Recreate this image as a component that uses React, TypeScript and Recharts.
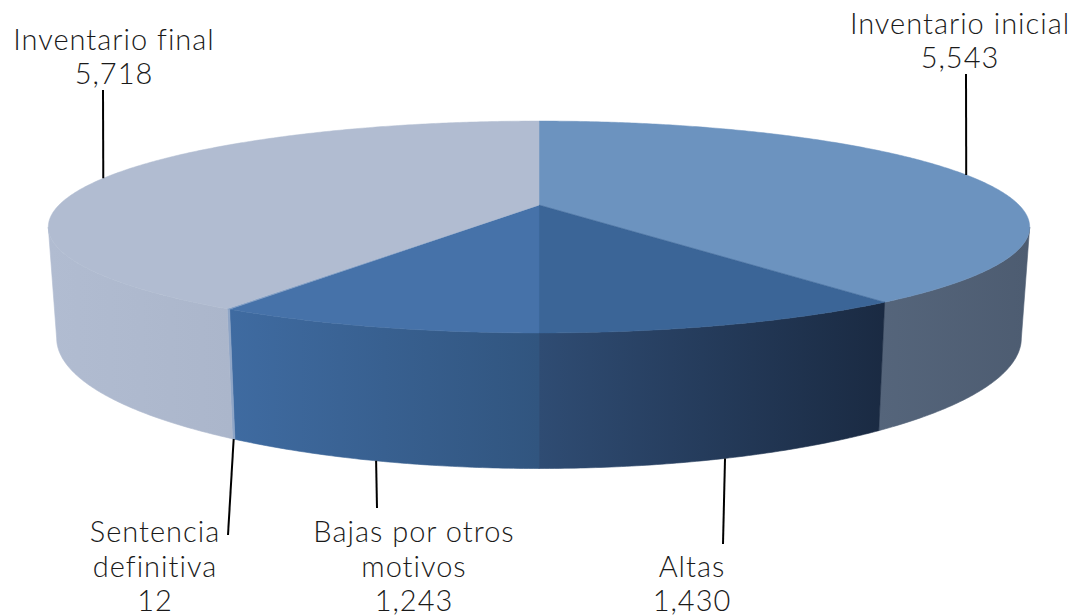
import * as React from "react";
import { PieChart, Pie } from "recharts";

const categories = ["Inventario inicial", "Altas", "Bajas por otros motivos", "Sentencia definitiva", "Inventario final"];
const values = [5543, 1430, 1243, 12, 5718];

const topColors = ["#6c93bf", "#3b6597", "#4672a9", "#7f9cc4", "#b1bcd1"];
const wallFrom = ["#55657b", "#2f4c73", "#3f6ba1", "#8fa5c6", "#b1bcd1"];
const wallTo = ["#4d5c71", "#1a2a42", "#31557f", "#8fa5c6", "#abb6cb"];

const labelLines: string[][] = [
  ["Inventario inicial"],
  ["Altas"],
  ["Bajas por otros", "motivos"],
  ["Sentencia", "definitiva"],
  ["Inventario final"],
];

const data = categories.map((name, i) => ({ name, value: values[i] }));

// perspective of the flattened disc, fitted to the reference
const TILT = 0.2076;
const TOP_RY = 0.2112;
const BOTTOM_RY = 0.26;
const BOTTOM_RX = 0.983;
const BOTTOM_DY = 106;

const FONT = "Lato, sans-serif";
const LINE_H = 34.5;

// leader end and text block per slice
const labelBoxes = [
  { lineEnd: [966, 74], textX: 960, lastBase: 68 },
  { lineEnd: [723, 544], textX: 692, lastBase: 611 },
  { lineEnd: [377, 508], textX: 414, lastBase: 611 },
  { lineEnd: [228, 535], textX: 155, lastBase: 611 },
  { lineEnd: [103, 90], textX: 114, lastBase: 84 },
];

function project(cx: number, cy: number, r: number, angle: number, bottom: boolean) {
  const t = ((90 - angle) * Math.PI) / 180;
  const u = Math.sin(t);
  const v = -Math.cos(t);
  const s = 1 / (1 - TILT * v);
  if (bottom) {
    return [cx + r * BOTTOM_RX * u * s, cy + BOTTOM_DY + r * BOTTOM_RY * v * s];
  }
  return [cx + r * u * s, cy + r * TOP_RY * v * s];
}

function arc(cx: number, cy: number, r: number, from: number, to: number, bottom: boolean) {
  const pts: number[][] = [];
  const n = Math.max(2, Math.ceil(Math.abs(from - to) * 2));
  for (let i = 0; i <= n; i++) {
    pts.push(project(cx, cy, r, from + ((to - from) * i) / n, bottom));
  }
  return pts;
}

const toPath = (pts: number[][]) => pts.map((p, i) => `${i ? "L" : "M"}${p[0].toFixed(2)},${p[1].toFixed(2)}`).join(" ");

function DiscSlice(props: any) {
  const { cx, cy, outerRadius, startAngle, endAngle, name } = props;
  const idx = categories.indexOf(name ?? props.payload?.name);
  const rim = arc(cx, cy, outerRadius, startAngle, endAngle, false);
  const topPath = `M${cx},${cy} ${toPath(rim).replace("M", "L")} Z`;

  // only the front part of the rim shows a wall
  const wStart = Math.min(startAngle, -12);
  const wEnd = Math.max(endAngle, -168);
  let wall = null;
  if (wStart > wEnd) {
    const upper = arc(cx, cy, outerRadius, wStart, wEnd, false);
    const lower = arc(cx, cy, outerRadius, wEnd, wStart, true);
    const xs = upper.map((p) => p[0]).concat(lower.map((p) => p[0]));
    const gid = `wall-${idx}`;
    wall = (
      <g>
        <defs>
          <linearGradient
            id={gid}
            gradientUnits="userSpaceOnUse"
            x1={Math.min(...xs)}
            x2={Math.max(...xs)}
            y1={0}
            y2={0}
          >
            <stop offset="0%" stopColor={wallFrom[idx]} />
            <stop offset="100%" stopColor={wallTo[idx]} />
          </linearGradient>
        </defs>
        <path d={`${toPath(upper)} ${toPath(lower).replace("M", "L")} Z`} fill={`url(#${gid})`} stroke={`url(#${gid})`} strokeWidth={0.6} />
      </g>
    );
  }
  return (
    <g>
      {wall}
      <path d={topPath} fill={topColors[idx]} stroke={topColors[idx]} strokeWidth={0.5} />
    </g>
  );
}

function SliceLabel(props: any) {
  const { cx, cy, outerRadius, midAngle, index, value } = props;
  const box = labelBoxes[index];
  const front = (midAngle < -12 && midAngle > -168) || index === 3;
  const start = project(cx, cy, outerRadius, midAngle, front);
  const lines = [...labelLines[index], value.toLocaleString("en-US")];
  const firstBase = box.lastBase - LINE_H * (lines.length - 1);
  return (
    <g>
      <line x1={start[0]} y1={start[1]} x2={box.lineEnd[0]} y2={box.lineEnd[1]} stroke="#000" strokeWidth={2} />
      <text
        x={box.textX}
        y={firstBase}
        textAnchor="middle"
        fontFamily={FONT}
        fontSize={29}
        fontWeight={300}
        letterSpacing={1}
        fill="#1a1a1a"
        style={{ fontVariantLigatures: "none" }}
      >
        {lines.map((line, i) => (
          <tspan key={i} x={box.textX} y={firstBase + LINE_H * i}>
            {line}
          </tspan>
        ))}
      </text>
    </g>
  );
}

export default function App() {
  return (
    <div style={{ position: "absolute", left: 0, top: 0, width: 1074, height: 616, background: "#fff" }}>
      <PieChart width={1074} height={616} margin={{ top: 0, right: 0, bottom: 0, left: 0 }}>
        <Pie
          data={data}
          dataKey="value"
          nameKey="name"
          cx={539}
          cy={205}
          innerRadius={0}
          outerRadius={480}
          startAngle={90}
          endAngle={-270}
          stroke="none"
          shape={DiscSlice}
          label={SliceLabel}
          labelLine={false}
          isAnimationActive={false}
        />
      </PieChart>
    </div>
  );
}
